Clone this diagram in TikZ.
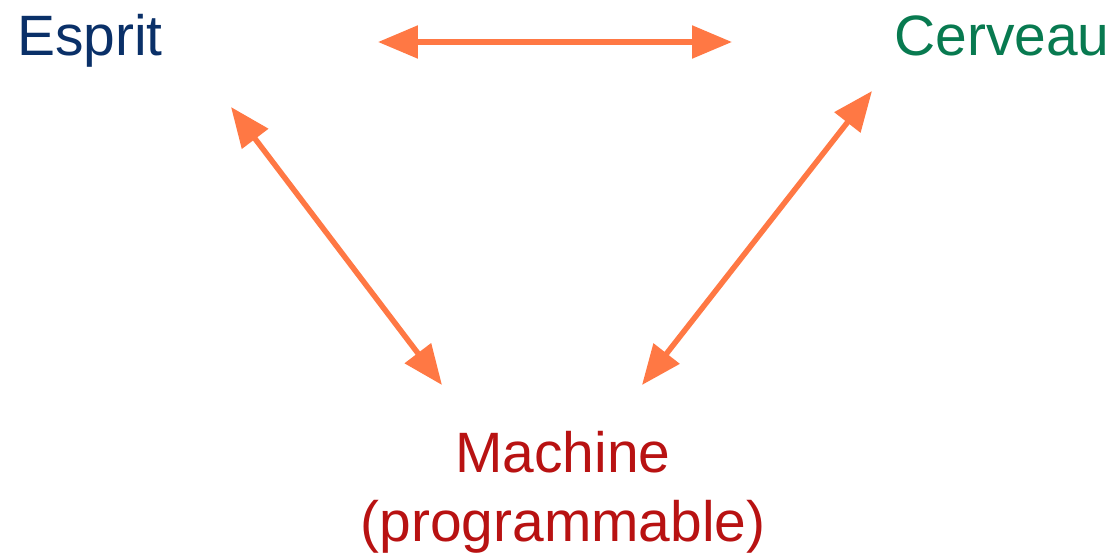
\documentclass[tikz,border=0pt]{standalone}
\usepackage{fontspec}
\setmainfont{Liberation Sans}
\usetikzlibrary{arrows.meta}
\definecolor{espritblue}{RGB}{10,48,104}
\definecolor{cerveaugreen}{RGB}{8,122,80}
\definecolor{machinered}{RGB}{184,18,18}
\definecolor{arroworange}{RGB}{255,120,68}

\begin{document}
\begin{tikzpicture}[x=0.02cm,y=-0.02cm,
  term/.style={inner sep=0pt,anchor=base,font=\fontsize{32.4}{38.8}\selectfont},
  arrow/.style={{Triangle[length=0.8cm,width=0.64cm]}-{Triangle[length=0.8cm,width=0.64cm]},line width=0.11cm,arroworange}
  ]
  \useasboundingbox (0,0) rectangle (1117,555);

  \node[term,text=espritblue] (esprit) at (90,55) {Esprit};
  \node[term,text=cerveaugreen] (cerveau) at (1002,55) {Cerveau};
  \node[term,text=machinered,align=center] (machine) at (563,541) {Machine\\(programmable)};

  % arrow ends
  \coordinate (eR) at (378,42);
  \coordinate (cL) at (732,42);
  \coordinate (eB) at (231,107);
  \coordinate (mL) at (442,385);
  \coordinate (cB) at (872,91);
  \coordinate (mR) at (642,385);

  \draw[arrow] (eR) -- (cL);
  \draw[arrow] (eB) -- (mL);
  \draw[arrow] (cB) -- (mR);
\end{tikzpicture}
\end{document}
